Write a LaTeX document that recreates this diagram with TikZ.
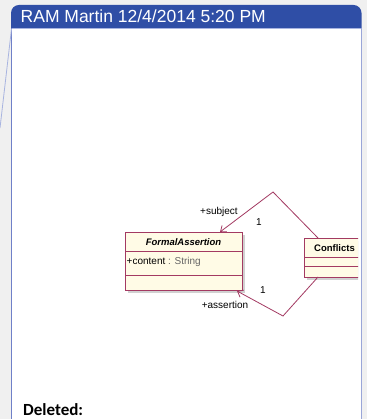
\documentclass[tikz,border=0pt]{standalone}
\usepackage{fontspec}
\setmainfont{Liberation Sans}
\newfontfamily\calfont{Carlito}
\usetikzlibrary{arrows.meta}

\definecolor{pagegray}{HTML}{F0F0F0}
\definecolor{hdrblue}{HTML}{2F4EA6}
\definecolor{rimblue}{HTML}{6F80C8}
\definecolor{linkblue}{HTML}{A8B4E0}
\definecolor{umlred}{HTML}{A33A62}
\definecolor{umlfill}{HTML}{FFFBE6}

\tikzset{
  umlclass/.style={draw=umlred, fill=umlfill, line width=0.8pt, inner sep=0pt},
  umlshade/.style={fill=black!18},
  assoc/.style={draw=umlred, line width=0.8pt},
  umltext/.style={font=\fontsize{10}{11}\selectfont, inner sep=0pt},
  >={Straight Barb[length=5pt,width=8pt]}
}

\begin{document}
\begin{tikzpicture}[x=1pt,y=-1pt]
\clip (0,0) rectangle (367,419);
\useasboundingbox (0,0) rectangle (367,419);
\fill[pagegray] (0,0) rectangle (367,419);

% balloon
\fill[hdrblue,rounded corners=8] (11,40) |- (361.5,5) -- (361.5,40) -- cycle;
\fill[white] (11,28) rectangle (361.5,425);
\draw[linkblue] (11.5,28.5) -- (361,28.5);
\draw[rimblue] (11.5,28) -- (11.5,425);
\draw[rimblue!70] (361,28) -- (361,425);
\node[anchor=west, text=white, inner sep=0pt, font=\fontsize{17.5}{17.5}\selectfont] (hdr) at (20.5,16.5) {RAM Martin 12/4/2014 5:20 PM};
\coordinate (corner) at (11.5,29);
\coordinate (anchorpt) at (0,128);
\draw[linkblue,line width=0.8pt] (corner) -- (anchorpt);

% diagram
\begin{scope}
\clip (13,29) rectangle (358,400);
\fill[umlshade] (128,235) rectangle (245,293);
\node[umlclass, minimum width=117, minimum height=58] (fa) at (183.5,261) {};
\draw[umlred, line width=0.8pt] (125,251) -- (242,251);
\draw[umlred, line width=0.8pt] (125,275) -- (242,275);
\node[umltext, font=\fontsize{9.5}{10}\selectfont\bfseries\itshape] (faname) at (183.5,242) {FormalAssertion};
\node[umltext, anchor=west] (faattr) at (126.5,261.5) {+content \textcolor{black!60}{: String}};

\fill[umlshade] (307,241) rectangle (380,280);
\node[umlclass, minimum width=76, minimum height=39] (conf) at (342,257.5) {};
\draw[umlred, line width=0.8pt] (304,257) -- (380,257);
\draw[umlred, line width=0.8pt] (304,266) -- (380,266);
\node[umltext, anchor=west, font=\fontsize{9.5}{10}\selectfont\bfseries] (confname) at (314,248) {Conflicts};

\coordinate (toppeak) at (273,192);
\coordinate (botpeak) at (283,316);
\coordinate (subjend) at (220,232);
\coordinate (assend) at (237,291);
\coordinate (conftop) at (318,238);
\coordinate (confbot) at (318,277);
\draw[assoc,->] (conftop) -- (toppeak) -- (subjend);
\draw[assoc,->] (confbot) -- (botpeak) -- (assend);

\node[umltext] (subj) at (219,212) {+subject};
\node[umltext] (subjmult) at (259,222) {1};
\node[umltext] (assmult) at (263,290) {1};
\node[umltext] (ass) at (225,304.5) {+assertion};
\end{scope}

\node[anchor=base west, inner sep=0pt, font=\calfont\bfseries\fontsize{17}{17}\selectfont] (deleted) at (23,415.5) {Deleted:};
\end{tikzpicture}
\end{document}
